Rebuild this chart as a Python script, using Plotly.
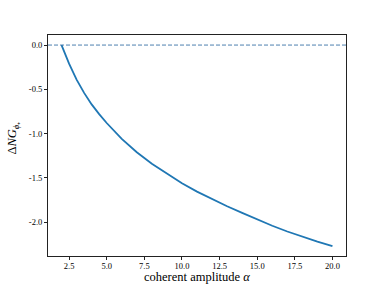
import plotly.graph_objects as go

# data
alpha = [2.0, 2.25, 2.5, 2.75, 3.0, 3.5, 4.0, 4.5, 5.0, 6.0, 7.0, 8.0, 9.0, 10.0,
         11.0, 12.0, 13.0, 14.0, 15.0, 16.0, 17.0, 18.0, 19.0, 20.0]
delta_ng = [0.0, -0.11, -0.21, -0.30, -0.39, -0.54, -0.67, -0.78, -0.88, -1.06, -1.21,
            -1.34, -1.455, -1.56, -1.655, -1.74, -1.82, -1.895, -1.97, -2.04, -2.105, -2.165,
            -2.22, -2.27]
x_ticks = [2.5, 5.0, 7.5, 10.0, 12.5, 15.0, 17.5, 20.0]
y_ticks = [-2.0, -1.5, -1.0, -0.5, 0.0]
y_tick_labels = ["-2.0", "-1.5", "-1.0", "-0.5", "0.0"]
ref_level = 0.0
x_title = "coherent amplitude <i>α</i>"
y_title = "Δ<i>NG</i><sub><i>ϕ</i>₊</sub>"

font = "Liberation Serif, Times New Roman, serif"

fig = go.Figure()
fig.add_trace(go.Scatter(x=alpha, y=delta_ng, mode="lines", line=dict(color="#1f77b4", width=1.8),
                         showlegend=False, hoverinfo="skip"))
fig.add_hline(y=ref_level, line=dict(color="#1f5f9a", width=0.8, dash="4px,2px"))

fig.add_annotation(text=x_title, xref="paper", yref="paper", x=0.5, y=-0.093,
                   xanchor="center", yanchor="middle", showarrow=False,
                   font=dict(family=font, size=12.5, color="black"))
fig.add_annotation(text=y_title, xref="paper", yref="paper", x=-0.118, y=0.535,
                   xanchor="center", yanchor="middle", showarrow=False, textangle=-90,
                   font=dict(family=font, size=12.5, color="black"))

fig.update_layout(
    width=384, height=288, autosize=False,
    margin=dict(l=48, r=38, t=35, b=32, pad=0),
    paper_bgcolor="white", plot_bgcolor="white",
    font=dict(family=font, size=8.5, color="black"),
    xaxis=dict(range=[1.1, 20.9], tickvals=x_ticks, ticktext=[f"{v:.1f}" for v in x_ticks],
               showgrid=False, zeroline=False, showline=True, linecolor="#222", linewidth=1,
               mirror=True, ticks="outside", ticklen=3, tickwidth=1, tickcolor="#222",
               automargin=False, ticklabelstandoff=-1),
    yaxis=dict(range=[-2.3815, 0.1135], tickvals=y_ticks, ticktext=y_tick_labels,
               showgrid=False, zeroline=False, showline=True, linecolor="#222", linewidth=1,
               mirror=True, ticks="outside", ticklen=3, tickwidth=1, tickcolor="#222",
               automargin=False),
)

fig.write_html("out.html", config={"displayModeBar": False},
               post_script="document.body.style.margin='0';document.body.style.overflow='hidden';")
